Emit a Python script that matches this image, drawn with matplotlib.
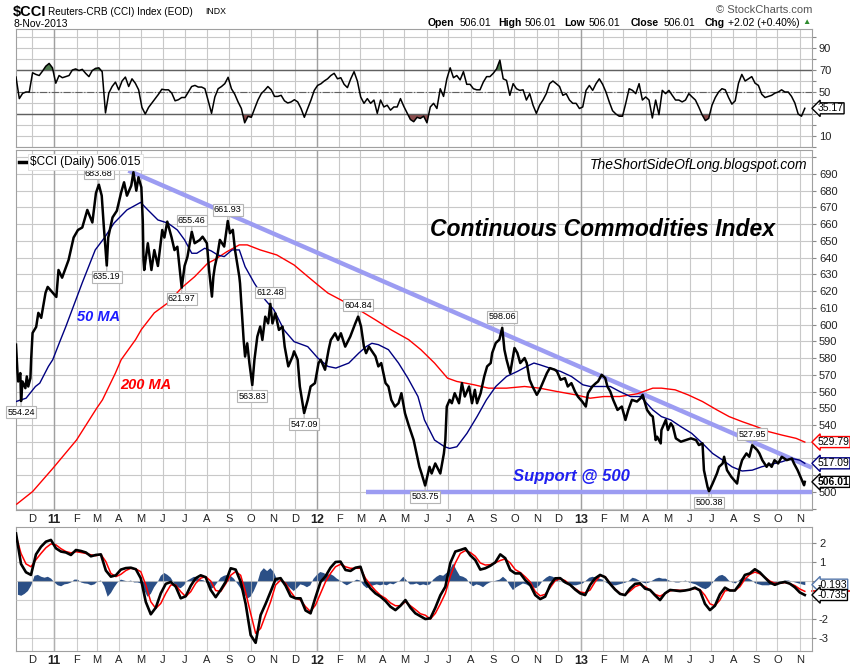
import pandas as pd
import matplotlib.pyplot as plt
from matplotlib.lines import Line2D
from matplotlib.transforms import blended_transform_factory

plt.rcParams['font.family'] = ['Liberation Sans', 'DejaVu Sans']

# ---------------- $CCI close ----------------
price_dates = [
    '2010-11-09', '2010-11-10', '2010-11-11', '2010-11-12', '2010-11-15', '2010-11-16', '2010-11-17',
    '2010-11-18', '2010-11-22', '2010-11-24', '2010-11-26', '2010-11-29', '2010-11-30', '2010-12-02',
    '2010-12-07', '2010-12-10', '2010-12-14', '2010-12-20', '2010-12-23', '2011-01-04', '2011-01-07',
    '2011-01-12', '2011-01-21', '2011-01-28', '2011-02-03', '2011-02-09', '2011-02-16', '2011-02-23',
    '2011-02-28', '2011-03-04', '2011-03-08', '2011-03-11', '2011-03-15', '2011-03-17', '2011-03-23',
    '2011-03-29', '2011-04-04', '2011-04-08', '2011-04-12', '2011-04-18', '2011-04-21', '2011-04-25',
    '2011-04-28', '2011-05-02', '2011-05-04', '2011-05-05', '2011-05-06', '2011-05-11', '2011-05-16',
    '2011-05-20', '2011-05-25', '2011-05-31', '2011-06-03', '2011-06-07', '2011-06-13', '2011-06-17',
    '2011-06-21', '2011-06-27', '2011-07-01', '2011-07-05', '2011-07-11', '2011-07-15', '2011-07-22',
    '2011-07-26', '2011-08-01', '2011-08-04', '2011-08-08', '2011-08-10', '2011-08-12', '2011-08-16',
    '2011-08-19', '2011-08-25', '2011-08-30', '2011-09-02', '2011-09-06', '2011-09-09', '2011-09-15',
    '2011-09-16', '2011-09-21', '2011-09-23', '2011-09-26', '2011-09-29', '2011-10-03', '2011-10-06',
    '2011-10-10', '2011-10-14', '2011-10-17', '2011-10-21', '2011-10-25', '2011-10-28', '2011-10-31',
    '2011-11-04', '2011-11-09', '2011-11-14', '2011-11-17', '2011-11-22', '2011-11-28', '2011-11-30',
    '2011-12-05', '2011-12-08', '2011-12-14', '2011-12-19', '2011-12-23', '2011-12-29', '2012-01-03',
    '2012-01-06', '2012-01-12', '2012-01-17', '2012-01-20', '2012-01-26', '2012-01-30', '2012-02-03',
    '2012-02-09', '2012-02-16', '2012-02-23', '2012-02-27', '2012-03-02', '2012-03-06', '2012-03-09',
    '2012-03-13', '2012-03-16', '2012-03-22', '2012-03-26', '2012-03-30', '2012-04-05', '2012-04-09',
    '2012-04-13', '2012-04-18', '2012-04-23', '2012-04-27', '2012-05-02', '2012-05-07', '2012-05-14',
    '2012-05-17', '2012-05-22', '2012-05-25', '2012-05-30', '2012-06-05', '2012-06-08', '2012-06-13',
    '2012-06-20', '2012-06-25', '2012-06-27', '2012-06-29', '2012-07-03', '2012-07-06', '2012-07-10',
    '2012-07-16', '2012-07-20', '2012-07-24', '2012-07-30', '2012-08-03', '2012-08-07', '2012-08-10',
    '2012-08-15', '2012-08-20', '2012-08-24', '2012-08-29', '2012-08-31', '2012-09-05', '2012-09-10',
    '2012-09-14', '2012-09-17', '2012-09-20', '2012-09-25', '2012-10-01', '2012-10-05', '2012-10-09',
    '2012-10-15', '2012-10-18', '2012-10-22', '2012-10-26', '2012-11-01', '2012-11-05', '2012-11-09',
    '2012-11-15', '2012-11-19', '2012-11-26', '2012-11-29', '2012-12-04', '2012-12-10', '2012-12-14',
    '2012-12-19', '2012-12-24', '2012-12-28', '2013-01-03', '2013-01-08', '2013-01-11', '2013-01-17',
    '2013-01-22', '2013-01-25', '2013-01-30', '2013-02-04', '2013-02-07', '2013-02-11', '2013-02-15',
    '2013-02-21', '2013-02-27', '2013-03-04', '2013-03-08', '2013-03-13', '2013-03-20', '2013-03-25',
    '2013-03-28', '2013-04-03', '2013-04-08', '2013-04-11', '2013-04-15', '2013-04-17', '2013-04-22',
    '2013-04-23', '2013-04-29', '2013-05-02', '2013-05-06', '2013-05-09', '2013-05-13', '2013-05-20',
    '2013-05-27', '2013-06-03', '2013-06-10', '2013-06-14', '2013-06-19', '2013-06-21', '2013-06-26',
    '2013-06-28', '2013-07-03', '2013-07-09', '2013-07-12', '2013-07-17', '2013-07-19', '2013-07-23',
    '2013-07-29', '2013-08-02', '2013-08-06', '2013-08-09', '2013-08-13', '2013-08-19', '2013-08-23',
    '2013-08-27', '2013-09-03', '2013-09-06', '2013-09-10', '2013-09-16', '2013-09-19', '2013-09-23',
    '2013-09-27', '2013-10-02', '2013-10-07', '2013-10-14', '2013-10-21', '2013-10-24', '2013-10-29',
    '2013-11-04', '2013-11-07', '2013-11-08']
price_close = [
    588, 580, 572, 566, 571, 554.24, 560, 566, 562, 569, 563, 568, 579, 595, 598.6, 607, 604, 619, 622.5,
    616.5, 632.6, 628, 638.6, 652, 656.5, 658, 668.5, 661, 678.6, 683.68, 677, 658, 635.19, 652, 664, 668,
    679, 685, 677, 683, 691, 680, 688, 682, 662, 638.6, 632.6, 648.6, 632.6, 644.5, 635, 656.5, 652, 661.5,
    652, 644.5, 646.5, 621.97, 635, 640.5, 655.46, 648.6, 650.5, 652.5, 648.6, 632.6, 616.7, 628.6, 634.6,
    642.5, 650.6, 646.6, 661.93, 654.6, 656.6, 644.6, 628.6, 624.6, 590.8, 580.9, 588.8, 577, 563.83, 579,
    592.8, 598.8, 590.8, 604.7, 600.7, 612.48, 600.7, 606.7, 596.8, 598.8, 586.8, 575, 581, 584, 579, 563,
    547.09, 555, 563, 565, 577, 579, 573, 585, 590.8, 594.8, 590.8, 594.8, 586.8, 592.8, 600.7, 604.84,
    598.8, 586.8, 582.9, 586.8, 584.8, 581, 575, 577, 565, 563, 555, 551, 553, 559, 547, 540, 531, 525, 515,
    511, 503.75, 515, 511, 517, 511, 523, 531, 551, 555, 553, 559, 553, 565, 557, 563, 553, 561, 553, 559,
    569, 575, 577, 583, 589, 591, 598.06, 585, 579, 571, 586, 583, 577, 580, 577, 567, 563, 558, 561, 565,
    571, 574, 573, 572, 567, 568, 563, 565, 560, 557, 554, 551, 559, 563, 565, 566, 570, 568, 563, 560, 555,
    549, 551, 543, 549, 555, 554, 556, 558, 549, 546, 545, 531, 533, 529, 537, 543, 537, 541, 539, 532, 530,
    531, 532, 531, 528, 529, 513, 503, 500.38, 505, 511, 515, 517, 521, 513, 509, 507, 505, 513, 519, 523,
    521, 527.95, 525, 523, 519, 515, 517, 515, 519, 517, 521, 519, 520, 517, 513, 507, 503.99, 506.01]

ma50_dates = [
    '2010-11-09', '2010-11-23', '2010-12-06', '2010-12-12', '2010-12-24', '2010-12-30', '2011-01-09',
    '2011-01-17', '2011-02-09', '2011-02-27', '2011-03-12', '2011-03-25', '2011-04-12', '2011-05-01',
    '2011-05-11', '2011-05-25', '2011-06-08', '2011-06-21', '2011-07-01', '2011-07-11', '2011-07-18',
    '2011-07-29', '2011-08-07', '2011-08-16', '2011-08-25', '2011-09-05', '2011-09-15', '2011-09-23',
    '2011-10-06', '2011-10-21', '2011-11-02', '2011-11-16', '2011-11-30', '2011-12-19', '2012-01-02',
    '2012-01-16', '2012-01-27', '2012-02-14', '2012-02-28', '2012-03-09', '2012-03-17', '2012-03-26',
    '2012-04-09', '2012-04-23', '2012-05-06', '2012-05-20', '2012-05-29', '2012-06-12', '2012-06-26',
    '2012-07-03', '2012-07-13', '2012-07-27', '2012-08-10', '2012-08-23', '2012-09-05', '2012-09-20',
    '2012-10-05', '2012-10-18', '2012-10-28', '2012-11-05', '2012-11-19', '2012-12-04', '2012-12-19',
    '2013-01-04', '2013-01-14', '2013-01-28', '2013-02-11', '2013-02-24', '2013-03-11', '2013-03-25',
    '2013-04-11', '2013-04-23', '2013-05-06', '2013-05-20', '2013-06-04', '2013-06-19', '2013-07-03',
    '2013-07-17', '2013-07-30', '2013-08-13', '2013-08-27', '2013-09-09', '2013-09-22', '2013-10-07',
    '2013-10-21', '2013-11-01', '2013-11-08']
ma50_values = [
    554, 556, 563, 565, 575, 579, 590, 598.6, 625, 644.6, 652, 660.6, 668.5, 673, 668.5, 662.5, 660.6,
    656.5, 650.6, 642.6, 642.6, 645.6, 644, 641.6, 640.6, 644.6, 644.6, 634.6, 624.6, 614.7, 608.8, 596.8,
    589.8, 586.8, 580, 575, 574, 577, 583, 586.8, 588.8, 588, 585, 577, 568, 557, 543, 531, 527, 526, 527,
    535, 545, 555, 563, 569, 572, 575, 577, 576, 574, 572, 569, 564, 563, 563, 563, 560, 557, 557, 549, 545,
    543, 539, 535, 529, 523, 519, 515, 512.5, 513, 515, 516.5, 518, 520, 519, 517.09]

ma200_dates = [
    '2010-11-10', '2010-12-02', '2010-12-30', '2011-02-01', '2011-03-01', '2011-03-09', '2011-03-27',
    '2011-04-04', '2011-04-24', '2011-05-02', '2011-05-20', '2011-06-08', '2011-06-27', '2011-07-15',
    '2011-08-02', '2011-08-11', '2011-08-29', '2011-09-15', '2011-09-26', '2011-10-14', '2011-11-06',
    '2011-11-30', '2011-12-19', '2012-01-02', '2012-01-16', '2012-02-03', '2012-02-28', '2012-03-22',
    '2012-04-13', '2012-05-07', '2012-05-24', '2012-06-12', '2012-06-30', '2012-07-13', '2012-08-06',
    '2012-08-26', '2012-09-20', '2012-10-15', '2012-11-05', '2012-11-29', '2012-12-25', '2013-01-14',
    '2013-02-02', '2013-02-24', '2013-03-20', '2013-04-11', '2013-04-23', '2013-05-12', '2013-05-30',
    '2013-06-19', '2013-07-09', '2013-07-26', '2013-08-13', '2013-09-02', '2013-09-19', '2013-10-07',
    '2013-10-27', '2013-11-08']
ma200_values = [
    492.7, 500.2, 514, 531, 550, 555, 571, 579, 591, 597, 607, 613, 622, 628.6, 636.6, 638.6, 643.6, 647.6,
    647.6, 644.6, 641.6, 635.6, 628.7, 623.7, 618.8, 614.7, 608.8, 602.8, 596.8, 591, 585, 577, 568, 566,
    564, 562, 562, 563, 562, 560, 558, 556, 557, 557, 558.6, 562, 562, 561, 558, 554, 549, 545, 542, 539,
    536, 534, 532, 529.79]

# trend line and support line drawn by the author
trend_dates = ['2011-04-14', '2013-11-18']
trend_values = [692, 514.5]
support_dates = ['2012-03-09', '2013-11-18']
support_values = [500, 500]

peak_dates = ['2010-11-16', '2011-03-04', '2011-03-15', '2011-06-27', '2011-07-11', '2011-08-30',
              '2011-10-03', '2011-10-28', '2011-12-14', '2012-02-27', '2012-05-30', '2012-09-14',
              '2013-06-28', '2013-08-27']
peak_values = [554.24, 683.68, 635.19, 621.97, 655.46, 661.93, 563.83, 612.48, 547.09, 604.84,
               503.75, 598.06, 500.38, 527.95]
peak_sides = ['dn', 'up', 'dn', 'dn', 'up', 'up', 'dn', 'up', 'dn', 'up', 'dn', 'up', 'dn', 'up']

# ---------------- RSI(14), sampled evenly over the chart ----------------
rsi_values = [
    63.6, 44, 48.8, 50, 50, 67.5, 66, 65, 69, 73.5, 76, 72, 58, 65, 63, 64, 65, 70, 71, 69.5, 70.6, 67, 64,
    69.5, 71.5, 72, 68.5, 31, 49, 55, 59, 52, 60, 63.6, 55, 62, 58, 52, 36, 30, 36, 40, 44, 48, 52.5, 52, 52,
    49, 42, 43, 45, 45, 50, 55, 56, 54.5, 54.5, 53, 42, 30.6, 45.5, 53, 55, 57.6, 63.4, 53, 48, 41, 35, 22,
    27.9, 27, 35, 42.7, 48.5, 51.5, 55, 52, 46, 46, 47, 42, 40, 41, 43, 41, 35, 27, 35, 42.7, 51.5, 56, 57.5,
    60, 62, 65, 67, 62, 63, 57, 54, 62, 68.5, 60, 45.5, 39.7, 44, 39.7, 42.7, 30.6, 42.7, 36.4, 38, 33.5,
    36.4, 36.4, 44, 37, 31, 25, 23, 27, 26,
    28, 22, 36.4, 39.7, 35, 53, 46, 62, 72, 63, 65, 61, 68.5, 57, 57, 53, 52, 52, 59, 64, 64, 67, 71, 79, 62,
    60.6, 47, 57.6, 53, 51.5, 52, 42.7, 48.5, 38, 30.6, 38, 42.7, 48.5, 57.6, 60, 57.6, 55, 47, 48.5, 42.7,
    39.7, 39.7, 35, 36.4, 51.5, 56, 51.5, 57.6, 62, 57, 50, 41, 33, 30, 28, 28, 40, 53, 51.5, 48.5, 57.6,
    42.7, 45.5, 42.7, 26.4, 42.7, 29.4, 51.5, 48.5, 51.5, 47, 42.7, 42.7, 41, 42.7, 48.5, 45.5, 42.7, 36.4,
    29.4, 24, 26, 38, 45, 50, 53, 52, 45, 39, 42, 58, 66, 60, 62, 64, 58, 56, 48, 45, 46, 47, 49, 50, 52,
    50, 50, 46, 40, 30, 28, 35.17]

# ---------------- PPO(12,26,9): line, signal (weekly samples), histogram ----------------
ppo_line = [
    2.5, 0.9, 0.46, 0.32, 1.4, 1.8, 2.07, 2.16, 1.72, 1.55, 1.5, 1.37, 1.63, 1.58, 1.5, 1.3, 1.37, 1.4, 0.55,
    0.23, 0.3, 0.6, 0.68, 0.7, 0.62, 0.14, -1.1, -1.75, -1.4, -0.65, -0.15, -0.05, -0.3, -0.91, -0.8, -0.25,
    0.15, 0.3, 0.2, -0.47, -0.85, -0.47, -0.04, 0.67, 0.6, -0.04, -1.2, -2.84, -3.25, -1.79, -1.2, -0.56,
    0.1, 0.15, -0.25, -0.8, -0.91, -0.91, -1.55, -1.7, -0.85, -0.05, 0.25, 0.7, 1.0, 1.02, 0.58, 0.53, 0.7,
    0.75, -0.04, -0.39, -0.65, -0.82, -1.05, -1.35, -1.53, -1.3, -1.0, -1.4, -1.7, -1.85,
    -2.0, -1.96, -1.4, -0.75, -0.3, 0.95, 1.55, 1.63, 1.72, 1.35, 1.1, 0.6, 0.67, 0.8, 0.98, 1.4, 1.2, 0.58,
    0.4, 0.4, 0.05, -0.21, -0.74, -0.95, -0.82, -0.21, 0.14, 0.15, -0.07, -0.2, -0.45, -0.65, -0.74, -0.21,
    0.14, 0.32, 0.2, -0.15, -0.45, -0.68, -0.74, -0.39, -0.15, -0.12, -0.4, -0.47, -0.75, -1.0, -0.65,
    -0.47, -0.5, -0.53, -0.5, -0.45, -0.35, -0.5, -1.2, -1.53, -1.3, -0.7, -0.35, -0.5, -0.5, -0.15, 0.32,
    0.4, 0.62, 0.45, 0.18, -0.08, -0.2, -0.1, -0.05, -0.14, -0.33, -0.6, -0.735]
ppo_signal = [
    2.4, 1.45, 0.9, 0.75, 1.12, 1.45, 1.75, 1.95, 1.9, 1.7, 1.55, 1.48, 1.54, 1.5, 1.45, 1.38, 1.33, 1.4,
    1.02, 0.4, 0.23, 0.35, 0.55, 0.67, 0.63, 0.49, -0.21, -1.09, -1.44, -1.18, -0.65, -0.21, -0.21, -0.56,
    -0.82, -0.56, -0.12, 0.15, 0.23, 0.0, -0.5, -0.55, -0.15, 0.3, 0.5, 0.3, -0.6, -1.7, -2.75, -2.49,
    -1.79, -1.09, -0.21, 0.05, -0.12, -0.56, -0.91, -1.0, -1.35, -1.61, -1.26, -0.65, -0.04, 0.4, 0.75,
    0.88, 0.75, 0.67, 0.67, 0.67, 0.14, -0.2, -0.5, -0.75, -0.91, -1.15, -1.3, -1.3, -1.09, -1.3, -1.5,
    -1.72,
    -1.8, -2.0, -1.7, -1.2, -0.65, 0.25, 0.95, 1.45, 1.6, 1.5, 1.3, 0.95, 0.84, 0.86, 0.96, 1.08, 1.16, 0.95,
    0.6, 0.45, 0.22, -0.05, -0.55, -0.78, -0.7, -0.35, 0.02, 0.12, 0.02, -0.21, -0.4, -0.58, -0.62, -0.47,
    -0.04, 0.28, 0.23, -0.12, -0.42, -0.65, -0.74, -0.53, -0.3, -0.2, -0.3, -0.48, -0.7, -0.8, -0.65,
    -0.52, -0.47, -0.49, -0.49, -0.45, -0.4, -0.45, -0.75, -1.2, -1.3, -1.0, -0.52, -0.48, -0.5, -0.3, 0.1,
    0.35, 0.47, 0.38, 0.2, 0.0, -0.12, -0.12, -0.08, -0.14, -0.24, -0.42, -0.542]
ppo_hist = [
    -0.7, -0.75, -0.65, -0.5, -0.2, 0.3, 0.35, 0.25, 0.2, 0.25, 0.15, -0.05, -0.2, -0.25, -0.15, -0.12,
    -0.05, 0.1, 0.1, -0.05, -0.1, -0.12, -0.2, -0.15, 0.0, 0.05, -0.25, -0.8, -0.6, -0.3, -0.05, 0.1, 0.05,
    0.0, 0.05, -0.05, -0.05, -0.1, -0.45, -0.8, -0.65, -0.3, -0.05, 0.3, 0.45, 0.35, 0.2, -0.1, -0.3, -0.35,
    -0.2, 0.05, 0.15, 0.25, 0.2, 0.1, 0.05, -0.1, -0.4, -0.3, -0.05, 0.2, 0.3, 0.35, 0.3, 0.15, -0.1, -0.35,
    -0.6, -0.9, -0.8, -0.5, -0.1, 0.5, 0.7, 0.55, 0.7, 0.5, 0.1, 0.0, -0.1, -0.2, -0.35, -0.5, -0.35, -0.15,
    -0.2, -0.3, -0.2, 0.15, 0.35, 0.5, 0.45, 0.35, 0.4, 0.3, 0.15, 0.05, -0.1, -0.2, -0.1, 0.0, 0.1, 0.05,
    -0.2, -0.35, -0.25, -0.2, -0.15, -0.2, -0.15, -0.2, -0.1, -0.15, -0.05, 0.05, 0.25, 0.05, -0.15, -0.15,
    -0.1, -0.2, -0.15,
    -0.2, -0.15, 0.1, 0.25, 0.35, 0.3, 0.45, 0.6, 0.95, 0.6, 0.3, 0.25, 0.15, -0.1, -0.25, -0.15, -0.2, -0.3,
    -0.15, -0.05, 0.0, 0.05, 0.1, 0.25, 0.1, -0.2, -0.45, -0.3, -0.2, -0.1, -0.15, -0.25, -0.3, -0.35, -0.2,
    0.05, 0.2, 0.3, 0.25, 0.15, 0.05, -0.05, -0.1, -0.15, -0.2, -0.2, -0.15, -0.1, 0.05, 0.2, 0.25, 0.2,
    0.15, 0.1, -0.05, -0.15, -0.2, -0.2, -0.15, -0.1, -0.05, 0.05, 0.2, 0.15, 0.05, -0.05, -0.1, -0.05,
    0.05, 0.15, 0.2, 0.15, 0.15, 0.05, 0.0, -0.05, -0.05, 0.0, 0.05, -0.05, -0.1, -0.15, -0.25, -0.35,
    -0.4, -0.3, -0.1, 0.15, 0.3, 0.35, 0.25, 0.05, -0.05, -0.1, 0.05, 0.2, 0.2, 0.15, 0.05, -0.1, -0.15,
    -0.2, -0.2, -0.2, -0.15, -0.1, -0.05, 0.0, 0.05, 0.05, 0.0, -0.05, -0.1, -0.15, -0.193]

month_letters = ['J', 'F', 'M', 'A', 'M', 'J', 'J', 'A', 'S', 'O', 'N', 'D']

# ---------------- build figure ----------------
W, H = 850, 668


def fx(px):
    return px / W


def fy(py):
    return 1 - py / H


pdates = pd.to_datetime(price_dates)
rsi_dates = pd.date_range('2010-11-09', '2013-11-08', periods=len(rsi_values))
ppo_dates = pd.date_range('2010-11-09', '2013-11-08', periods=len(ppo_line))
sig_dates = pd.date_range('2010-11-09', '2013-11-08', periods=len(ppo_signal))
hist_dates = pd.date_range('2010-11-11', '2013-11-08', periods=len(ppo_hist))

fig = plt.figure(figsize=(8.5, 6.68), dpi=100)
ax_rsi = fig.add_axes([fx(16), fy(147), 796 / W, 118 / H])
ax = fig.add_axes([fx(16), fy(510), 796 / W, 360 / H])
ax_ppo = fig.add_axes([fx(16), fy(651), 796 / W, 124 / H])

month_starts = pd.date_range('2010-12-01', '2013-11-01', freq='MS')
month_labels = [str(d.year)[2:] if d.month == 1 else month_letters[d.month - 1] for d in month_starts]

for a in (ax_rsi, ax, ax_ppo):
    a.set_xlim(pd.Timestamp('2010-11-09'), pd.Timestamp('2013-11-18'))
    a.set_xticks(month_starts)
    a.set_xticklabels(month_labels)
    a.yaxis.tick_right()
    a.grid(True, color='#c8c8c8', lw=0.8)
    for s in a.spines.values():
        s.set_color('#a0a0a0')
    a.tick_params(axis='x', length=0, labelsize=8, pad=3, colors='#222222')
    a.tick_params(axis='y', length=3, labelsize=8, pad=2, colors='#888888', labelcolor='#222222')
    for d in month_starts[month_starts.month == 1]:
        a.axvline(d, color='#a0a0a0', lw=1, zorder=0.8)
    for lbl in a.get_xticklabels():
        if lbl.get_text().isdigit():
            lbl.set_fontweight('bold')
            lbl.set_fontsize(9)
ax_rsi.set_xticklabels([])

# --- RSI panel ---
ax_rsi.set_axisbelow(True)
ax_rsi.set_ylim(0, 107.3)
ax_rsi.set_yticks(range(0, 110, 10))
ax_rsi.set_yticklabels(['' if t % 20 == 0 or t == 30 else str(t) for t in range(0, 110, 10)])
ax_rsi.axhline(70, color='#606060', lw=1)
ax_rsi.axhline(30, color='#606060', lw=1)
ax_rsi.axhline(50, color='#606060', lw=0.8, ls='-.')
rsi = pd.Series(rsi_values, index=rsi_dates)
ax_rsi.fill_between(rsi_dates, rsi, 70, where=rsi > 70, interpolate=True, color='#4d7a4d', lw=0)
ax_rsi.fill_between(rsi_dates, rsi, 30, where=rsi < 30, interpolate=True, color='#8a4d4d', lw=0)
ax_rsi.plot(rsi_dates, rsi_values, color='black', lw=1.1, zorder=3)

# --- price panel ---
ax.set_axisbelow(True)
ax.set_ylim(489.2, 704.3)
ax.set_yticks(range(490, 710, 10))
ax.set_yticklabels(['' if t in (490, 510, 520, 530, 700) else str(t) for t in range(490, 710, 10)])
ax.plot(pd.to_datetime(trend_dates), trend_values, color='#9c9cf2', lw=3.2, solid_capstyle='butt', zorder=2.5)
ax.plot(pd.to_datetime(support_dates), support_values, color='#9c9cf2', lw=3.2, solid_capstyle='butt', zorder=2.5)
ax.plot(pd.to_datetime(ma200_dates), ma200_values, color='#ff0000', lw=1, zorder=3)
ax.plot(pd.to_datetime(ma50_dates), ma50_values, color='#000080', lw=1, zorder=3)
ax.plot(pdates, price_close, color='black', lw=1.8, zorder=4)

for d, v, side in zip(peak_dates, peak_values, peak_sides):
    off = 8 if side == 'up' else -8
    ax.annotate(f'{v:.2f}', xy=(pd.Timestamp(d), v), xytext=(0, off), textcoords='offset points',
                ha='center', va='center', fontsize=6.5, zorder=6, annotation_clip=False,
                bbox=dict(boxstyle='square,pad=0.15', fc='white', ec='#b4b4b4', lw=0.8),
                arrowprops=dict(arrowstyle='-', color='#b4b4b4', lw=0.8, shrinkA=0, shrinkB=1))


def tag(a, val, txt, ec, bold=False):
    # value tag hanging on the right edge of a panel
    a.annotate(txt, xy=(1, val), xycoords=('axes fraction', 'data'), xytext=(4, 0),
               textcoords='offset points', ha='left', va='center', fontsize=7.5,
               fontweight='bold' if bold else 'normal', annotation_clip=False, zorder=10,
               bbox=dict(boxstyle='larrow,pad=0.05', fc='white', ec=ec, lw=1))


tag(ax, ma200_values[-1], f'{ma200_values[-1]:.2f}', '#ff0000')
tag(ax, ma50_values[-1], f'{ma50_values[-1]:.2f}', '#000080')
tag(ax, price_close[-1], f'{price_close[-1]:.2f}', 'black', bold=True)
tag(ax_rsi, rsi_values[-1], f'{rsi_values[-1]:.2f}', 'black')

# --- PPO panel ---
ax_ppo.set_axisbelow(False)
ax_ppo.grid(True, color='#b8b8b8', lw=0.8, alpha=0.7)
ax_ppo.set_ylim(-3.68, 2.84)
ax_ppo.set_yticks([-3, -2, -1, 0, 1, 2])
ax_ppo.set_yticklabels(['-3', '-2', '', '', '1', '2'])
ax_ppo.fill_between(hist_dates, 0, ppo_hist, color='#2b4f86', lw=0, zorder=1)
ax_ppo.plot(sig_dates, ppo_signal, color='#ff0000', lw=1.1, zorder=3)
ax_ppo.plot(ppo_dates, ppo_line, color='black', lw=1.9, zorder=3.5)
tr = blended_transform_factory(ax_ppo.transAxes, ax_ppo.transData)
ax_ppo.plot([1.0, 1.05], [ppo_signal[-1]] * 2, color='#ff0000', lw=1.2, transform=tr, clip_on=False)
tag(ax_ppo, ppo_hist[-1], f'{ppo_hist[-1]:.3f}', '#5577aa')
tag(ax_ppo, ppo_line[-1], f'{ppo_line[-1]:.3f}', 'black')

# --- texts ---
fig.text(fx(30), fy(162), '$CCI (Daily) 506.015', fontsize=8.5, va='center', ha='left',
         bbox=dict(boxstyle='square,pad=0.2', fc='white', ec='#dddddd', lw=0.6))
fig.add_artist(Line2D([fx(19), fx(27)], [fy(162), fy(162)], color='black', lw=2.5))
fig.text(fx(807), fy(165), 'TheShortSideOfLong.blogspot.com', fontsize=10, style='italic',
         ha='right', va='center')
fig.text(fx(430), fy(230), 'Continuous Commodities Index', fontsize=16.5, style='italic',
         fontweight='bold', ha='left', va='center')
fig.text(fx(77), fy(317), '50 MA', fontsize=10.5, style='italic', fontweight='bold', color='#1c1cff',
         va='center')
fig.text(fx(120), fy(385), '200 MA', fontsize=10.5, style='italic', fontweight='bold', color='#ff0000',
         va='center')
fig.text(fx(513), fy(476), 'Support @ 500', fontsize=12, style='italic', fontweight='bold',
         color='#2020f0', va='center')

fig.text(fx(13), fy(12), '$CCI', fontsize=10.5, fontweight='bold', va='center')
fig.text(fx(48), fy(12), 'Reuters-CRB (CCI) Index (EOD)', fontsize=7.2, va='center')
fig.text(fx(205), fy(12), 'INDX', fontsize=6.3, va='center')
fig.text(fx(13), fy(24), '8-Nov-2013', fontsize=7.5, va='center')
fig.text(fx(812), fy(10), '\u00a9 StockCharts.com', fontsize=8, color='#555555', ha='right', va='center')
quote = [('Open', 428, True), ('506.01', 460, False), ('High', 498, True), ('506.01', 525, False),
         ('Low', 564, True), ('506.01', 589, False), ('Close', 631, True), ('506.01', 664, False),
         ('Chg', 705, True), ('+2.02 (+0.40%)', 728, False)]
for txt, px, bold in quote:
    fig.text(fx(px), fy(23), txt, fontsize=7.5, fontweight='bold' if bold else 'normal', va='center')
fig.text(fx(802), fy(23), '\u25b2', fontsize=6, color='#2e8b2e', va='center')

fig.savefig('out.png', dpi=100)
